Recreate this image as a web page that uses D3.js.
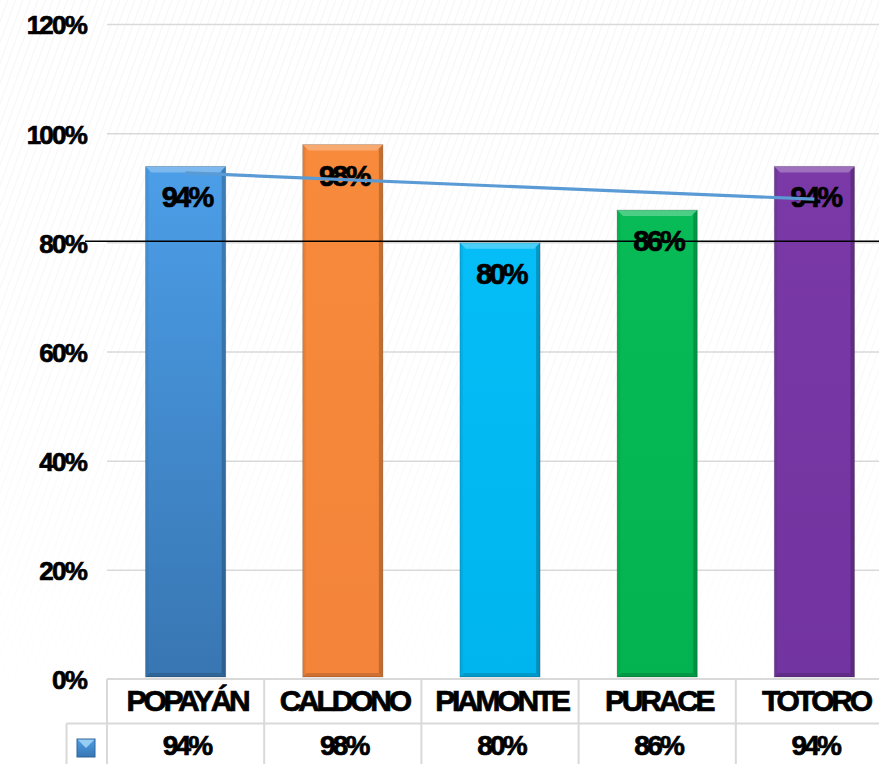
<!DOCTYPE html>
<html>
<head>
<meta charset="utf-8">
<script src="https://cdn.jsdelivr.net/npm/d3@7"></script>
<style>
  html, body { margin: 0; padding: 0; background: #ffffff; overflow: hidden; }
  svg { display: block; font-family: "Liberation Sans", Arial, sans-serif; font-weight: bold; }
</style>
</head>
<body>
<svg id="chart" width="879" height="764"></svg>
<script>
// Coverage by municipality
const categories = ["POPAYÁN", "CALDONO", "PIAMONTE", "PURACE", "TOTORO"];
const values = [94, 98, 80, 86, 94];
const barColors = ["#4c9ee8", "#f78a3b", "#05bdf7", "#08bb56", "#7a39a6"];
const barDark = ["#3876b2", "#f3843a", "#00b5ee", "#03b350", "#7234a0"];
const yTicks = [0, 20, 40, 60, 80, 100, 120];
const targetValue = 80;

const svg = d3.select("#chart");
const W = 879, H = 764;
const plotLeft = 107, plotRight = 893, plotTop = 24.5, plotBottom = 679.5;

const x = d3.scaleBand().domain(categories).range([plotLeft, plotRight]).paddingInner(0.49).paddingOuter(0.245);
const y = d3.scaleLinear().domain([0, 120]).range([plotBottom, plotTop]);
const bandStep = x.step();

const defs = svg.append("defs");

// faint diagonal texture of the plot background
const pat = defs.append("pattern")
  .attr("id", "hatch").attr("patternUnits", "userSpaceOnUse")
  .attr("width", 7).attr("height", 7)
  .attr("patternTransform", "rotate(20)");
pat.append("line").attr("x1", 0).attr("y1", 0).attr("x2", 0).attr("y2", 7)
  .attr("stroke", "#efefef").attr("stroke-width", 1.2);

const fade = defs.append("linearGradient").attr("id", "fade").attr("x1", 0).attr("x2", 0).attr("y1", 0).attr("y2", 1);
fade.append("stop").attr("offset", "0").attr("stop-color", "#fff").attr("stop-opacity", 0);
fade.append("stop").attr("offset", "0.55").attr("stop-color", "#fff").attr("stop-opacity", 0.3);
fade.append("stop").attr("offset", "1").attr("stop-color", "#fff").attr("stop-opacity", 0.9);

svg.append("rect").attr("x", 0).attr("y", 0).attr("width", W).attr("height", plotBottom)
  .attr("fill", "url(#hatch)");
svg.append("rect").attr("x", 0).attr("y", 0).attr("width", W).attr("height", plotBottom)
  .attr("fill", "url(#fade)");

// gridlines
svg.append("g").selectAll("line").data(yTicks.filter(d => d > 0)).join("line")
  .attr("x1", plotLeft).attr("x2", W)
  .attr("y1", d => y(d)).attr("y2", d => y(d))
  .attr("stroke", "#d9d9d9").attr("stroke-width", 1.5);

// heavy, tightly set label text
function heavy(sel) {
  return sel.attr("fill", "#000").attr("stroke", "#000").attr("stroke-width", 0.7)
    .attr("font-family", "Liberation Sans, Arial, sans-serif").attr("font-weight", "bold");
}

// y axis labels
const yAxis = d3.axisLeft(y).tickValues(yTicks).tickFormat(d => d + "%").tickSize(0).tickPadding(0);
const yg = svg.append("g").attr("transform", `translate(86,0)`).call(yAxis);
yg.select(".domain").remove();
heavy(yg.selectAll("text"))
  .attr("font-size", 26).attr("letter-spacing", "-1.8px")
  .attr("dy", "0.36em");

// bar gradients
barColors.forEach((c, i) => {
  const g = defs.append("linearGradient").attr("id", "bg" + i)
    .attr("x1", 0).attr("x2", 0).attr("y1", 0).attr("y2", 1);
  g.append("stop").attr("offset", "0").attr("stop-color", c);
  g.append("stop").attr("offset", "1").attr("stop-color", barDark[i]);
});

// bars with bevelled edges
const bars = svg.append("g").selectAll("g").data(categories).join("g");
bars.each(function(cat, i) {
  const g = d3.select(this);
  const x0 = x(cat), w = x.bandwidth(), x1 = x0 + w;
  const top = y(values[i]), bot = y(0) - 2.5;
  const b = 6;
  g.append("rect").attr("x", x0).attr("y", top).attr("width", w).attr("height", bot - top)
    .attr("fill", `url(#bg${i})`);
  // top facet
  g.append("polygon")
    .attr("points", [[x0, top], [x1, top], [x1 - b, top + b], [x0 + b, top + b]].join(" "))
    .attr("fill", "#ffffff").attr("opacity", 0.28);
  // left facet
  g.append("polygon")
    .attr("points", [[x0, top], [x0 + 3, top + 3], [x0 + 3, bot - 3], [x0, bot]].join(" "))
    .attr("fill", "#000").attr("opacity", 0.06);
  // right facet
  g.append("polygon")
    .attr("points", [[x1, top], [x1 - 4, top + 4], [x1 - 4, bot - 4], [x1, bot]].join(" "))
    .attr("fill", "#000").attr("opacity", 0.2);
  // bottom facet
  g.append("polygon")
    .attr("points", [[x0, bot], [x0 + 4, bot - 4], [x1 - 4, bot - 4], [x1, bot]].join(" "))
    .attr("fill", "#000").attr("opacity", 0.15);
  g.append("rect").attr("x", x0).attr("y", top).attr("width", w).attr("height", bot - top)
    .attr("fill", "none").attr("stroke", "#000").attr("stroke-opacity", 0.18).attr("stroke-width", 1);
});

// target line at 80%
svg.append("line")
  .attr("x1", 85).attr("x2", W)
  .attr("y1", y(targetValue) - 1.5).attr("y2", y(targetValue) - 1.5)
  .attr("stroke", "#000").attr("stroke-width", 1.5);

// data labels inside the bars
heavy(svg.append("g").selectAll("text").data(categories).join("text"))
  .attr("x", d => x(d) + x.bandwidth() / 2 + 1)
  .attr("y", (d, i) => y(values[i]) + 41)
  .attr("text-anchor", "middle")
  .attr("font-size", 29).attr("letter-spacing", "-2.8px")
  .text((d, i) => values[i] + "%");

// linear trend line of the series
const n = values.length;
const xs = d3.range(1, n + 1);
const mx = d3.mean(xs), my = d3.mean(values);
const slope = d3.sum(xs.map((xi, i) => (xi - mx) * (values[i] - my))) / d3.sum(xs.map(xi => (xi - mx) ** 2));
const intercept = my - slope * mx;
const trend = [1, n].map(k => [x(categories[k - 1]) + x.bandwidth() / 2, y(intercept + slope * k)]);
svg.append("path")
  .attr("d", d3.line()(trend))
  .attr("fill", "none").attr("stroke", "#5b9bd5").attr("stroke-width", 3.2);

// data table below the axis
const rowTop = 679, rowMid = 723.5, rowBot = 800;
const tbl = svg.append("g").attr("stroke", "#d9d9d9").attr("stroke-width", 2);
tbl.append("line").attr("x1", plotLeft).attr("x2", W).attr("y1", rowTop).attr("y2", rowTop);
tbl.append("line").attr("x1", 66.5).attr("x2", W).attr("y1", rowMid).attr("y2", rowMid);
tbl.append("line").attr("x1", 66.5).attr("x2", 66.5).attr("y1", rowMid).attr("y2", rowBot);
const borders = categories.map(c => x(c) - (bandStep - x.bandwidth()) / 2);
tbl.selectAll(".vb").data(borders).join("line")
  .attr("x1", d => d).attr("x2", d => d).attr("y1", rowTop).attr("y2", rowBot);

heavy(svg.append("g").selectAll("text").data(categories).join("text"))
  .attr("x", d => x(d) + x.bandwidth() / 2 + 1.5)
  .attr("y", 711)
  .attr("text-anchor", "middle")
  .attr("font-size", 30).attr("letter-spacing", "-3.2px")
  .text(d => d);

heavy(svg.append("g").selectAll("text").data(categories).join("text"))
  .attr("x", d => x(d) + x.bandwidth() / 2 + 1)
  .attr("y", 755)
  .attr("text-anchor", "middle")
  .attr("font-size", 28).attr("letter-spacing", "-2.8px")
  .text((d, i) => values[i] + "%");

// legend key
const kx = 77, ky = 739, ks = 18;
svg.append("rect").attr("x", kx).attr("y", ky).attr("width", ks).attr("height", ks).attr("fill", "url(#bg0)");
svg.append("polygon")
  .attr("points", [[kx, ky], [kx + ks, ky], [kx + ks / 2, ky + ks / 2]].join(" "))
  .attr("fill", "#9fd3f5").attr("opacity", 0.9);
svg.append("rect").attr("x", kx).attr("y", ky).attr("width", ks).attr("height", ks)
  .attr("fill", "none").attr("stroke", "#2e6499").attr("stroke-width", 1);
</script>
</body>
</html>
